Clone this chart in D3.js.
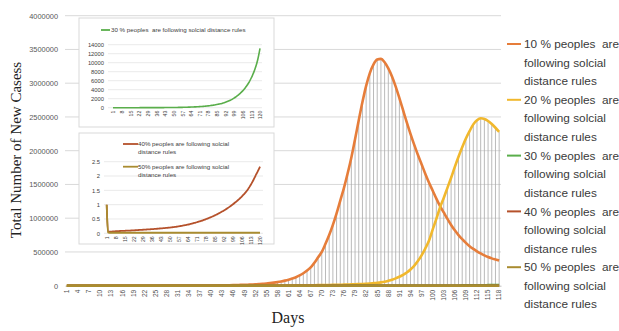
<!DOCTYPE html>
<html>
<head>
<meta charset="utf-8">
<script src="https://cdn.jsdelivr.net/npm/d3@7"></script>
<style>
  html, body { margin: 0; padding: 0; background: #ffffff; }
  svg { display: block; }
</style>
</head>
<body>
<svg id="chart" width="619" height="331"></svg>
<script>
// Days on the main chart and on the two small panels
const days = d3.range(1, 119);
const panelDays = d3.range(1, 121);

const yTicks = [0, 500000, 1000000, 1500000, 2000000, 2500000, 3000000, 3500000, 4000000];
const panelTicks30 = [0, 2000, 4000, 6000, 8000, 10000, 12000, 14000];
const panelTicks4050 = [0, 0.5, 1, 1.5, 2, 2.5];

const legendLabels = [
  "10 % peoples  are following solcial distance rules",
  "20 % peoples  are following solcial distance rules",
  "30 % peoples  are following solcial distance rules",
  "40 % peoples  are following solcial distance rules",
  "50 % peoples  are following solcial distance rules"
];
const legendLines = [
  ["10 % peoples  are", "following solcial", "distance rules"],
  ["20 % peoples  are", "following solcial", "distance rules"],
  ["30 % peoples  are", "following solcial", "distance rules"],
  ["40 % peoples  are", "following solcial", "distance rules"],
  ["50 % peoples  are", "following solcial", "distance rules"]
];

// New cases per day, 10 % following the rules (days 1-118)
const cases10 = [
  2, 3, 4, 5, 6, 8, 10, 12, 15, 18,
  22, 27, 33, 40, 48, 58, 70, 84, 100, 120,
  145, 170, 200, 240, 285, 335, 395, 465, 545, 640,
  750, 880, 1030, 1200, 1400, 1630, 1900, 2200, 2560, 3000,
  3600, 4300, 5000, 5900, 7000, 8300, 9800, 11500, 13200, 15000,
  17500, 20500, 24000, 28000, 32000, 38000, 45000, 53000, 63000, 75000,
  89000, 106000, 125000, 152000, 184000, 225000, 270000, 340000, 420000, 500000,
  620000, 750000, 900000, 1070000, 1260000, 1450000, 1665000, 1900000, 2170000, 2450000,
  2720000, 2960000, 3150000, 3280000, 3350000, 3360000, 3310000, 3220000, 3100000, 2950000,
  2780000, 2600000, 2420000, 2250000, 2090000, 1940000, 1800000, 1660000, 1530000, 1410000,
  1290000, 1180000, 1085000, 990000, 900000, 820000, 750000, 690000, 635000, 585000,
  545000, 510000, 478000, 450000, 425000, 405000, 388000, 372000
];

// New cases per day, 20 % following the rules (days 1-118)
const cases20 = [
  0, 0, 1, 1, 1, 2, 2, 3, 3, 4,
  5, 6, 7, 8, 10, 12, 14, 16, 19, 22,
  26, 30, 35, 40, 46, 53, 61, 70, 80, 92,
  105, 120, 137, 156, 178, 203, 231, 263, 300, 340,
  385, 435, 490, 550, 620, 700, 790, 890, 1000, 1120,
  1250, 1400, 1560, 1740, 1940, 2160, 2400, 2660, 2950, 3270,
  3620, 4000, 4420, 4880, 5380, 5930, 6530, 7190, 7910, 8700,
  9560, 10500, 11600, 12800, 14100, 15600, 17300, 19200, 21300, 23700,
  26000, 29000, 33000, 37500, 42500, 49000, 58000, 72000, 88000, 108000,
  132000, 160000, 195000, 240000, 295000, 365000, 450000, 550000, 665000, 830000,
  990000, 1160000, 1300000, 1450000, 1600000, 1760000, 1910000, 2050000, 2180000, 2290000,
  2390000, 2450000, 2480000, 2470000, 2440000, 2395000, 2340000, 2280000
];

// New cases per day, 30 % following the rules (days 1-120)
const cases30 = [
  1, 1, 1, 1, 1, 1, 1, 1, 2, 2,
  2, 2, 2, 3, 3, 3, 3, 4, 4, 4,
  5, 5, 6, 6, 7, 7, 8, 8, 9, 10,
  11, 12, 13, 14, 15, 16, 17, 19, 20, 22,
  24, 26, 28, 30, 32, 35, 38, 41, 44, 47,
  51, 55, 60, 65, 70, 75, 81, 88, 95, 102,
  110, 119, 129, 139, 150, 162, 175, 189, 204, 220,
  238, 257, 278, 300, 324, 350, 378, 408, 440, 476,
  514, 555, 600, 648, 700, 755, 815, 880, 950, 1030,
  1110, 1200, 1300, 1410, 1530, 1660, 1800, 1960, 2130, 2320,
  2520, 2730, 2950, 3190, 3450, 3730, 4040, 4380, 4750, 5150,
  5600, 6100, 6650, 7250, 7900, 8650, 9500, 10500, 11750, 13200
];

// New cases per day, 40 % following the rules (days 1-120)
const cases40 = [
  1, 0.05, 0.055, 0.058, 0.062, 0.065, 0.068, 0.071, 0.075, 0.078,
  0.080, 0.082, 0.084, 0.086, 0.088, 0.090, 0.092, 0.094, 0.096, 0.098,
  0.100, 0.103, 0.106, 0.109, 0.112, 0.115, 0.118, 0.121, 0.124, 0.127,
  0.130, 0.133, 0.136, 0.139, 0.142, 0.145, 0.148, 0.151, 0.155, 0.159,
  0.163, 0.167, 0.171, 0.175, 0.179, 0.183, 0.187, 0.191, 0.196, 0.201,
  0.206, 0.211, 0.216, 0.222, 0.229, 0.236, 0.243, 0.251, 0.259, 0.267,
  0.276, 0.285, 0.294, 0.304, 0.314, 0.325, 0.336, 0.348, 0.360, 0.373,
  0.386, 0.400, 0.414, 0.429, 0.444, 0.460, 0.476, 0.493, 0.510, 0.528,
  0.546, 0.565, 0.585, 0.605, 0.626, 0.648, 0.671, 0.694, 0.718, 0.743,
  0.769, 0.796, 0.824, 0.853, 0.883, 0.914, 0.946, 0.979, 1.013, 1.048,
  1.085, 1.123, 1.163, 1.204, 1.247, 1.292, 1.339, 1.388, 1.439, 1.492,
  1.560, 1.630, 1.705, 1.785, 1.870, 1.960, 2.055, 2.135, 2.230, 2.330
];

// New cases per day, 50 % following the rules (days 1-120)
const cases50 = [
  1, 0.03, 0.02, 0.02, 0.02, 0.02, 0.02, 0.02, 0.02, 0.02,
  0.02, 0.02, 0.02, 0.02, 0.02, 0.02, 0.02, 0.02, 0.02, 0.02,
  0.02, 0.02, 0.02, 0.02, 0.02, 0.02, 0.02, 0.02, 0.02, 0.02,
  0.02, 0.02, 0.02, 0.02, 0.02, 0.02, 0.02, 0.02, 0.02, 0.02,
  0.02, 0.02, 0.02, 0.02, 0.02, 0.02, 0.02, 0.02, 0.02, 0.02,
  0.02, 0.02, 0.02, 0.02, 0.02, 0.02, 0.02, 0.02, 0.02, 0.02,
  0.02, 0.02, 0.02, 0.02, 0.02, 0.02, 0.02, 0.02, 0.02, 0.02,
  0.02, 0.02, 0.02, 0.02, 0.02, 0.02, 0.02, 0.02, 0.02, 0.02,
  0.02, 0.02, 0.02, 0.02, 0.02, 0.02, 0.02, 0.02, 0.02, 0.02,
  0.02, 0.02, 0.02, 0.02, 0.02, 0.02, 0.02, 0.02, 0.02, 0.02,
  0.02, 0.02, 0.02, 0.02, 0.02, 0.02, 0.02, 0.02, 0.02, 0.02,
  0.02, 0.02, 0.02, 0.02, 0.02, 0.02, 0.02, 0.02, 0.02, 0.02
];

const colors = ["#E67D3A", "#F1B82D", "#5AAE4B", "#B5512B", "#A98C30"];

const svg = d3.select("#chart");
const sans = "'Liberation Sans', Arial, sans-serif";
const serif = "'Liberation Serif', 'Times New Roman', serif";

// ---------- main chart ----------
const plot = { left: 65, right: 501, top: 15.7, bottom: 285.7 };
const x = d3.scaleBand().domain(days).range([plot.left, plot.right]);
const cx = d => x(d) + x.bandwidth() / 2;
const y = d3.scaleLinear().domain([0, 4000000]).range([plot.bottom, plot.top]);

// horizontal gridlines
svg.append("g").selectAll("line").data(yTicks.slice(1)).join("line")
  .attr("x1", plot.left).attr("x2", plot.right)
  .attr("y1", d => y(d)).attr("y2", d => y(d))
  .attr("stroke", "#d9d9d9").attr("stroke-width", 1);

// y axis labels
const yAxis = svg.append("g").attr("transform", `translate(${plot.left},0)`)
  .call(d3.axisLeft(y).tickValues(yTicks).tickSize(0).tickPadding(7).tickFormat(d3.format("d")));
yAxis.select(".domain").remove();
yAxis.selectAll("text").attr("font-family", sans).attr("font-size", 7.4).attr("fill", "#595959");

// drop lines from the highest series down to the axis
const mainSeries = [cases10, cases20, cases30.slice(0, 118), cases40.slice(0, 118), cases50.slice(0, 118)];
svg.append("g").selectAll("line").data(days).join("line")
  .attr("x1", d => cx(d)).attr("x2", d => cx(d))
  .attr("y1", (d, i) => y(d3.max(mainSeries, s => s[i])))
  .attr("y2", y(0))
  .attr("stroke", "#a8a8a8").attr("stroke-width", 0.8);

// x axis
const xAxis = svg.append("g").attr("transform", `translate(0,${plot.bottom})`)
  .call(d3.axisBottom(x).tickValues(days.filter((d, i) => i % 3 === 0)).tickSize(0));
xAxis.select(".domain").attr("stroke", "#bfbfbf");
xAxis.selectAll("text")
  .attr("transform", "rotate(-90)")
  .attr("x", -4).attr("y", 0).attr("dy", "0.35em")
  .style("text-anchor", "end")
  .attr("font-family", sans).attr("font-size", 6.6).attr("fill", "#505050");

// series lines
const mainLine = d3.line().x((d, i) => cx(days[i])).y(d => y(d)).curve(d3.curveMonotoneX);
svg.append("g").selectAll("path").data(mainSeries).join("path")
  .attr("d", mainLine)
  .attr("fill", "none")
  .attr("stroke", (d, i) => colors[i])
  .attr("stroke-width", 2.6)
  .attr("stroke-linejoin", "round");

// axis titles
svg.append("text")
  .attr("transform", "translate(21,150) rotate(-90)")
  .attr("text-anchor", "middle")
  .attr("font-family", serif).attr("font-size", 15).attr("fill", "#222")
  .text("Total Number of New Casess");
svg.append("text")
  .attr("x", 288).attr("y", 323)
  .attr("text-anchor", "middle")
  .attr("font-family", serif).attr("font-size", 16).attr("fill", "#222")
  .text("Days");

// legend
const legend = svg.append("g");
legendLines.forEach((lines, i) => {
  const top = 44 + i * 55.8;
  legend.append("line")
    .attr("x1", 507).attr("x2", 521).attr("y1", top).attr("y2", top)
    .attr("stroke", colors[i]).attr("stroke-width", 2);
  lines.forEach((t, j) => {
    legend.append("text")
      .attr("x", 524).attr("y", top + j * 18.5)
      .attr("dy", "0.35em")
      .attr("font-family", sans).attr("font-size", 11.8).attr("fill", "#3a3a3a")
      .style("white-space", "pre")
      .text(t);
  });
});

// ---------- small panels ----------
function panel(cfg) {
  const g = svg.append("g");
  g.append("rect")
    .attr("x", cfg.box[0]).attr("y", cfg.box[1])
    .attr("width", cfg.box[2] - cfg.box[0]).attr("height", cfg.box[3] - cfg.box[1])
    .attr("fill", "#ffffff").attr("stroke", "#d9d9d9").attr("stroke-width", 1);

  const px = d3.scalePoint().domain(panelDays).range(cfg.xRange);
  const py = d3.scaleLinear().domain([0, cfg.yMax]).range(cfg.yRange);

  g.append("g").selectAll("line").data(cfg.ticks).join("line")
    .attr("x1", cfg.grid[0]).attr("x2", cfg.grid[1])
    .attr("y1", d => py(d)).attr("y2", d => py(d))
    .attr("stroke", "#e3e3e3").attr("stroke-width", 0.8);

  const ya = g.append("g").attr("transform", `translate(${cfg.grid[0]},0)`)
    .call(d3.axisLeft(py).tickValues(cfg.ticks).tickSize(0).tickPadding(4).tickFormat(cfg.fmt));
  ya.select(".domain").remove();
  ya.selectAll("text").attr("font-family", sans).attr("font-size", 5.8).attr("fill", "#404040");

  const xa = g.append("g").attr("transform", `translate(0,${cfg.yRange[0]})`)
    .call(d3.axisBottom(px).tickValues(panelDays.filter((d, i) => i % 7 === 0)).tickSize(0));
  xa.select(".domain").remove();
  xa.selectAll("text")
    .attr("transform", "rotate(-90)")
    .attr("x", -3).attr("y", 0).attr("dy", "0.35em")
    .style("text-anchor", "end")
    .attr("font-family", sans).attr("font-size", 5.2).attr("fill", "#404040");

  const ln = d3.line().x((d, i) => px(panelDays[i])).y(d => py(d)).curve(d3.curveMonotoneX);
  cfg.series.forEach(s => {
    g.append("path").attr("d", ln(s.values))
      .attr("fill", "none").attr("stroke", s.color).attr("stroke-width", cfg.lw)
      .attr("stroke-linejoin", "round");
  });

  cfg.legend.forEach(item => {
    g.append("line")
      .attr("x1", item.x).attr("x2", item.x + item.len)
      .attr("y1", item.y).attr("y2", item.y)
      .attr("stroke", item.color).attr("stroke-width", 1.8);
    item.lines.forEach((t, j) => {
      g.append("text")
        .attr("x", item.tx).attr("y", item.y + j * 8)
        .attr("dy", "0.35em")
        .attr("font-family", sans).attr("font-size", 6.2).attr("fill", "#404040")
        .style("white-space", "pre")
        .text(t);
    });
  });
}

panel({
  box: [79, 18, 274, 127],
  xRange: [113, 260],
  yRange: [107.7, 44.7],
  yMax: 14000,
  ticks: panelTicks30,
  grid: [108, 262],
  fmt: d3.format("d"),
  lw: 1.6,
  series: [{ values: cases30, color: colors[2] }],
  legend: [{ x: 101, len: 9, y: 30, tx: 111, color: colors[2], lines: [legendLabels[2]] }]
});

panel({
  box: [79, 133, 274, 244],
  xRange: [106.7, 260],
  yRange: [233.3, 161.7],
  yMax: 2.5,
  ticks: panelTicks4050,
  grid: [104, 263],
  fmt: d3.format("~g"),
  lw: 1.8,
  series: [
    { values: cases40, color: colors[3] },
    { values: cases50, color: colors[4] }
  ],
  legend: [
    { x: 123, len: 15, y: 144, tx: 138, color: colors[3],
      lines: ["40% peoples are following solcial", "distance rules"] },
    { x: 123, len: 15, y: 166.7, tx: 138, color: colors[4],
      lines: ["50% peoples are following solcial", "distance rules"] }
  ]
});
</script>
</body>
</html>
